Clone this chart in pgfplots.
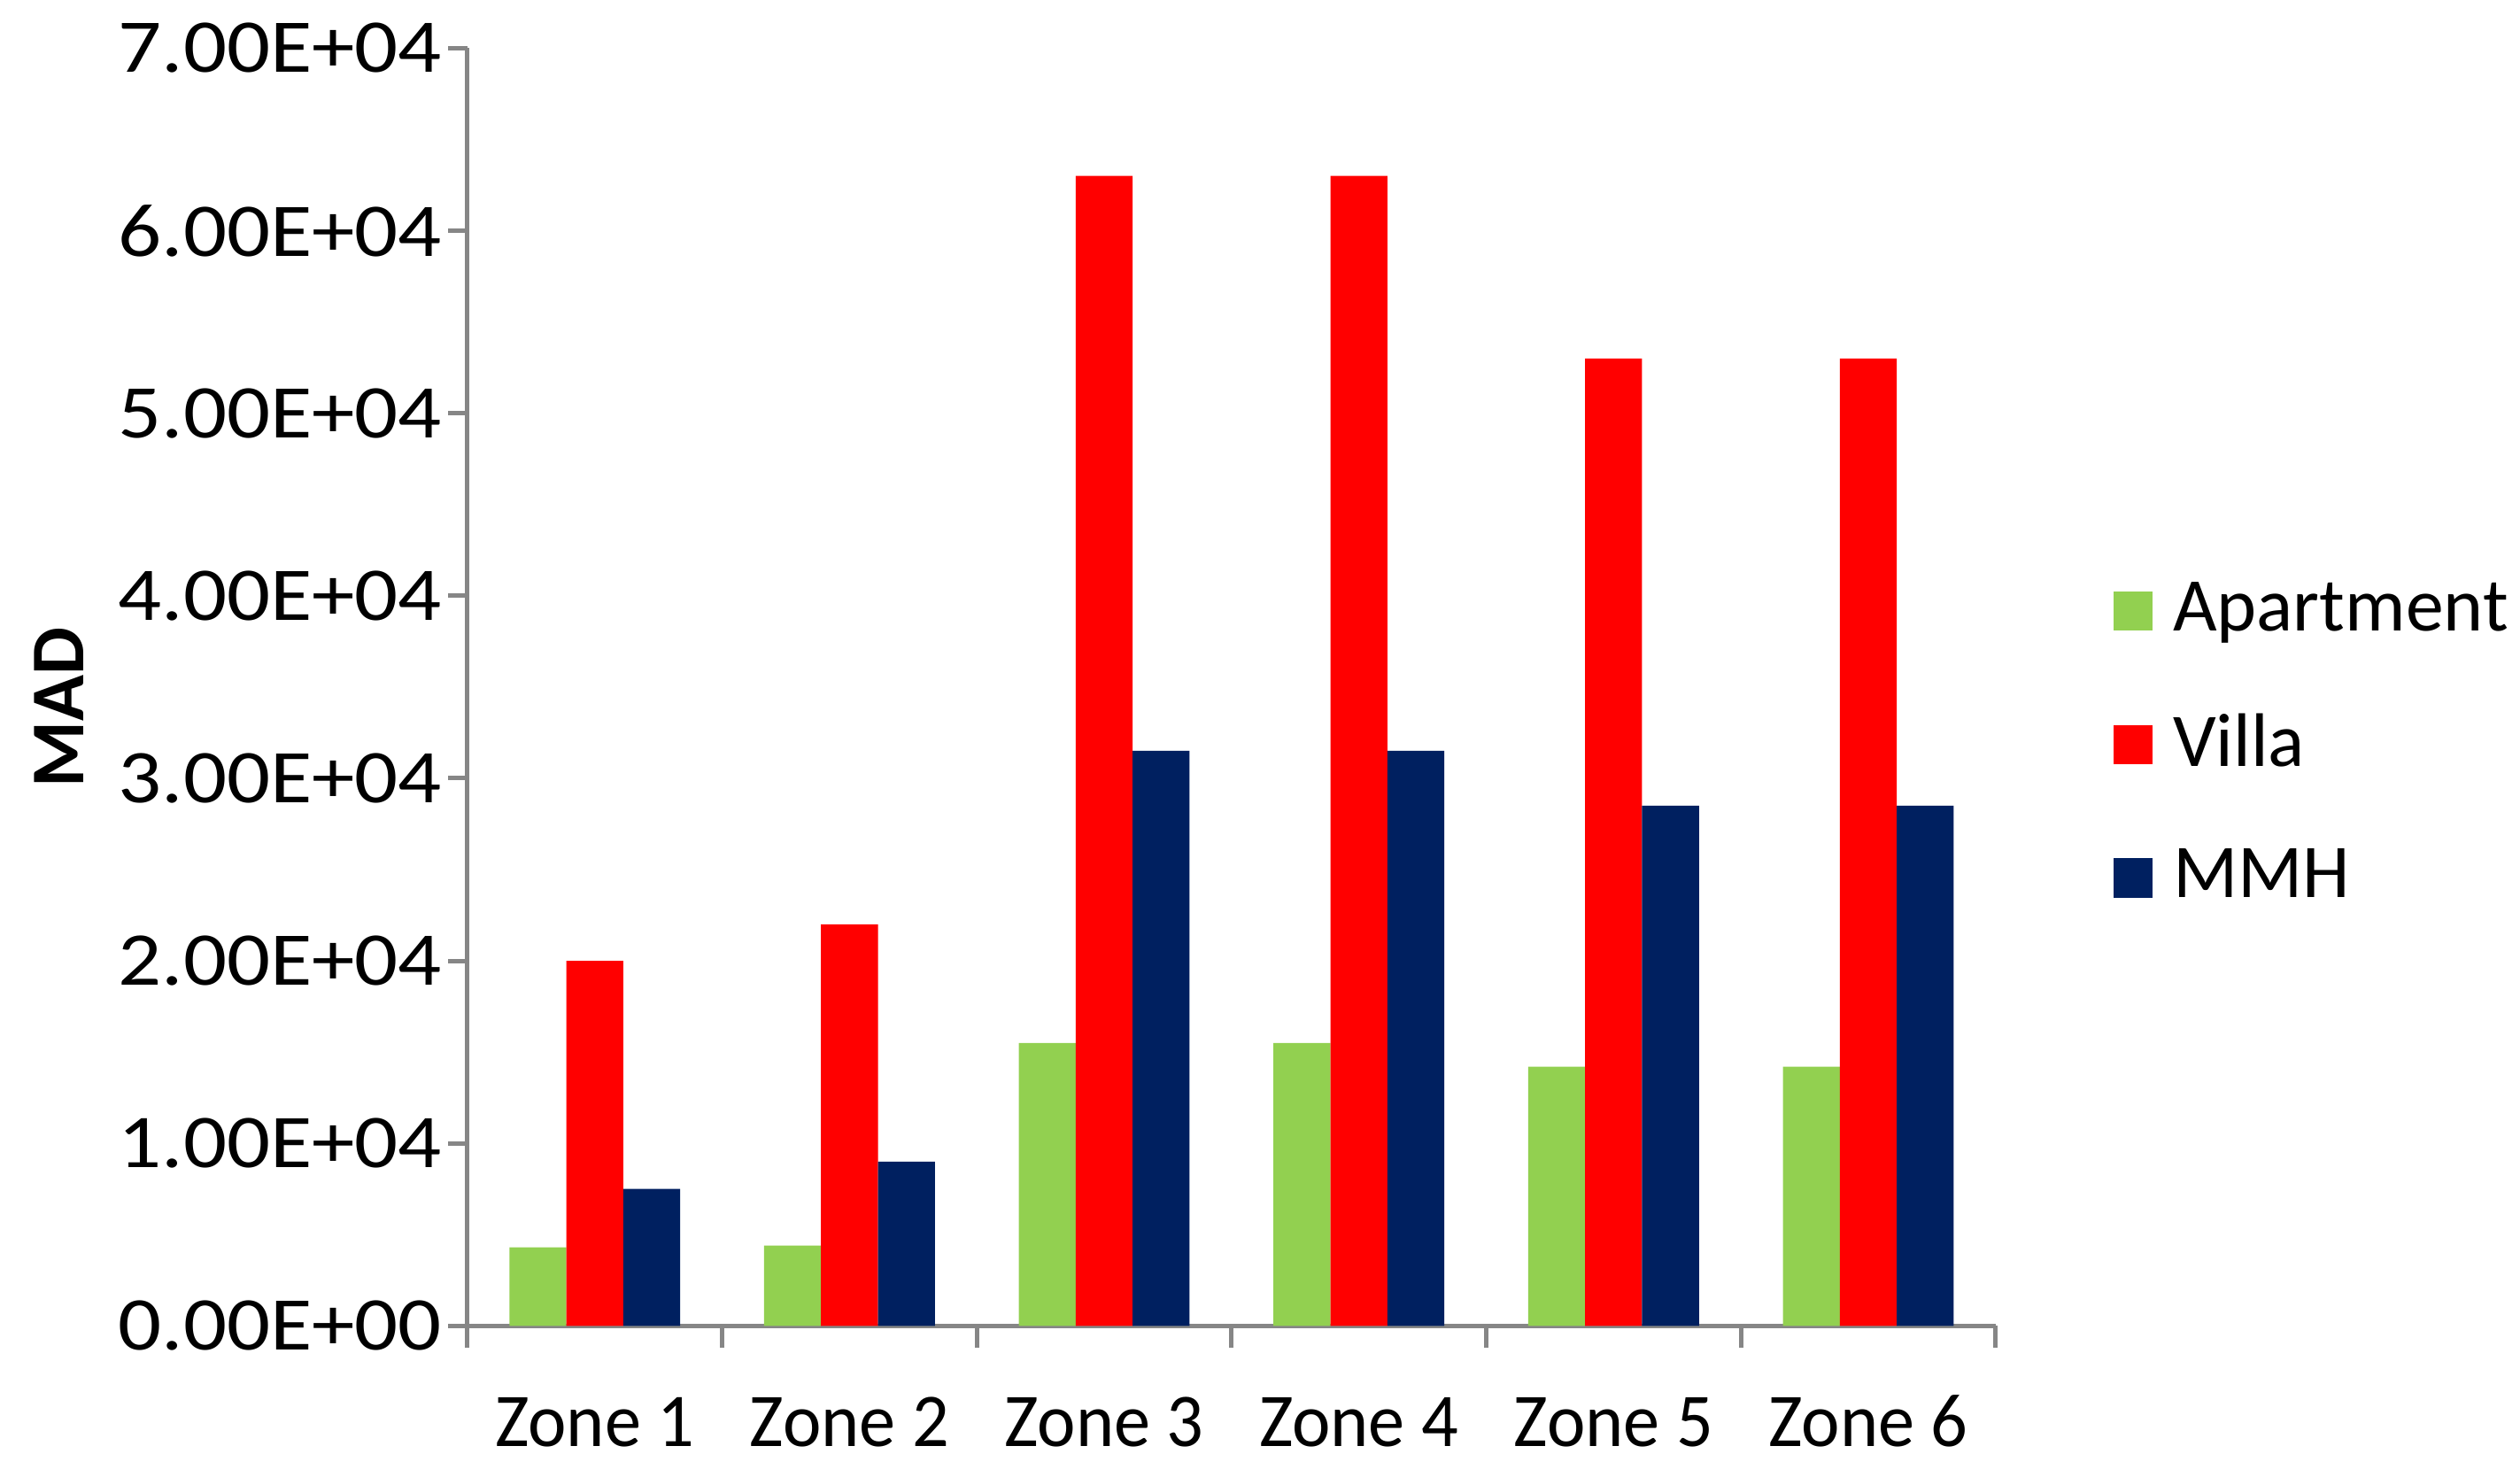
\documentclass[border=0pt]{standalone}
\usepackage{pgfplots}
\pgfplotsset{compat=1.18}
\usepackage{fontspec}
\setmainfont{Carlito}
\newfontfamily\ywide[FakeStretch=1.13]{Carlito}
\newfontfamily\xnarrow[FakeStretch=0.96]{Carlito}
\definecolor{cgreen}{HTML}{92D050}
\definecolor{cred}{HTML}{FF0000}
\definecolor{cnavy}{HTML}{002060}
\definecolor{axgray}{HTML}{868686}
\begin{document}
\begin{tikzpicture}
\useasboundingbox (-73.9pt,-23.8pt) rectangle (324.5pt,209.6pt);
\begin{axis}[
  at={(0,0)}, anchor=south west,
  scale only axis, width=241.6pt, height=202pt,
  ybar=0pt, bar width=9pt,
  xmin=0.5, xmax=6.5, ymin=0, ymax=70000,
  axis lines*=left,
  axis line style={axgray, line width=0.7pt, -},
  tick align=outside,
  xtick={1,2,3,4,5,6},
  xticklabels={Zone 1,Zone 2,Zone 3,Zone 4,Zone 5,Zone 6},
  major x tick style={draw=none},
  minor xtick={0.5,1.5,2.5,3.5,4.5,5.5,6.5},
  minor x tick style={draw=axgray, line width=0.7pt},
  minor tick length=3.5pt,
  major tick length=3pt,
  y tick style={draw=axgray, line width=0.7pt},
  ytick={0,10000,20000,30000,40000,50000,60000,70000},
  yticklabels={0.00E+00,1.00E+04,2.00E+04,3.00E+04,4.00E+04,5.00E+04,6.00E+04,7.00E+04},
  scaled y ticks=false,
  yticklabel style={font=\ywide\fontsize{12}{14}\selectfont, black, xshift=2.5pt},
  xticklabel style={font=\xnarrow\fontsize{12}{14}\selectfont, black, yshift=-3.6pt, text height=9pt, text depth=0pt},
  ylabel={\textbf{MAD}},
  ylabel style={at={(axis description cs:-0.267,0.484)}, anchor=center, font=\fontsize{12}{14}\selectfont},
  legend style={at={(axis description cs:1.064,0.455)}, anchor=west, draw=none, fill=none,
    row sep=7.6pt, font=\fontsize{12}{14}\selectfont, nodes={inner xsep=3.2pt}},
  legend cell align=left,
  legend image code/.code={\draw[#1,draw=none] (0pt,-3.1pt) rectangle (6.2pt,3.1pt);},
]
\addplot[fill=cgreen, draw=none] coordinates {(1,4300) (2,4400) (3,15500) (4,15500) (5,14200) (6,14200)};
\addplot[fill=cred, draw=none] coordinates {(1,20000) (2,22000) (3,63000) (4,63000) (5,53000) (6,53000)};
\addplot[fill=cnavy, draw=none] coordinates {(1,7500) (2,9000) (3,31500) (4,31500) (5,28500) (6,28500)};
\legend{Apartment,Villa,MMH}
\end{axis}
\end{tikzpicture}
\end{document}
